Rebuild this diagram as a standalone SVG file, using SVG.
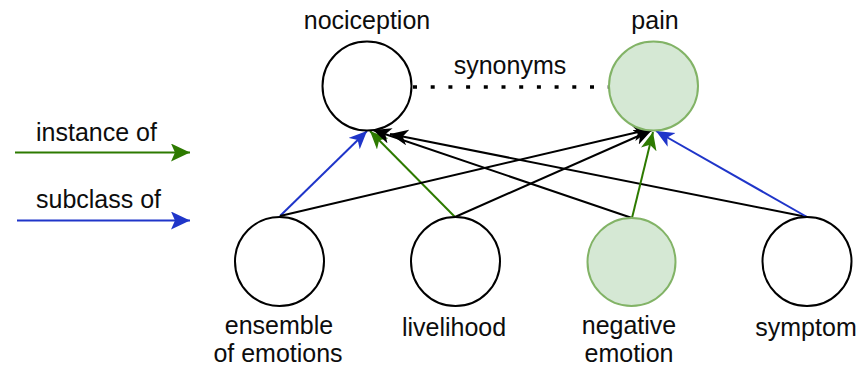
<svg xmlns="http://www.w3.org/2000/svg" width="862" height="367" viewBox="0 0 862 367">
  <style>
    text { font-family: "Liberation Sans", Arial, Helvetica, sans-serif; font-size: 25px; fill: #0d0d0d; }
    .mid { text-anchor: middle; }
    .node { fill: #ffffff; stroke: #000000; stroke-width: 2; }
    .node.green { fill: #d5e8d4; stroke: #82b366; }
    .edge { fill: none; stroke-width: 2; }
    .black { stroke: #000000; }
    .inst { stroke: #2d7a00; }
    .sub { stroke: #1f35c9; }
    .syn { stroke: #000000; stroke-width: 3.5; stroke-dasharray: 4 13.7; fill: none; }
  </style>
  <defs>
    <marker id="arrow-black" markerUnits="userSpaceOnUse" markerWidth="19" markerHeight="17" refX="18" refY="8" orient="auto">
      <path d="M0,0 L18,8 L0,16 L5,8 z" fill="#000000"/>
    </marker>
    <marker id="arrow-inst" markerUnits="userSpaceOnUse" markerWidth="19" markerHeight="17" refX="18" refY="8" orient="auto">
      <path d="M0,0 L18,8 L0,16 L5,8 z" fill="#2d7a00"/>
    </marker>
    <marker id="arrow-sub" markerUnits="userSpaceOnUse" markerWidth="19" markerHeight="17" refX="18" refY="8" orient="auto">
      <path d="M0,0 L18,8 L0,16 L5,8 z" fill="#1f35c9"/>
    </marker>
    <marker id="legend-inst" markerUnits="userSpaceOnUse" markerWidth="20" markerHeight="19" refX="19" refY="9" orient="auto">
      <path d="M0,0 L19,9 L0,18 L4,9 z" fill="#2d7a00"/>
    </marker>
    <marker id="legend-sub" markerUnits="userSpaceOnUse" markerWidth="20" markerHeight="19" refX="19" refY="9" orient="auto">
      <path d="M0,0 L19,9 L0,18 L4,9 z" fill="#1f35c9"/>
    </marker>
  </defs>

  <!-- legend -->
  <g id="legend">
    <text x="36" y="141">instance of</text>
    <line class="edge inst" x1="15" y1="152.5" x2="190" y2="152.5" marker-end="url(#legend-inst)"/>
    <text x="36" y="208">subclass of</text>
    <line class="edge sub" x1="17" y1="220.5" x2="190" y2="220.5" marker-end="url(#legend-sub)"/>
  </g>

  <!-- connectors -->
  <g id="connectors">
    <line class="syn" x1="413" y1="87" x2="609" y2="87"/>
    <!-- into nociception -->
    <line class="edge sub" x1="280" y1="216" x2="367" y2="131" marker-end="url(#arrow-sub)"/>
    <line class="edge inst" x1="455" y1="217" x2="370" y2="131" marker-end="url(#arrow-inst)"/>
    <line class="edge black" x1="632" y1="218" x2="373" y2="130" marker-end="url(#arrow-black)"/>
    <line class="edge black" x1="807" y1="217" x2="390" y2="134" marker-end="url(#arrow-black)"/>
    <!-- into pain -->
    <line class="edge black" x1="280" y1="216" x2="651" y2="129" marker-end="url(#arrow-black)"/>
    <line class="edge black" x1="455" y1="217" x2="652" y2="130" marker-end="url(#arrow-black)"/>
    <line class="edge inst" x1="632" y1="218" x2="653" y2="132" marker-end="url(#arrow-inst)"/>
    <line class="edge sub" x1="807" y1="217" x2="656" y2="131" marker-end="url(#arrow-sub)"/>
  </g>

  <g id="nociception">
    <circle class="node" cx="367" cy="86" r="44.5"/>
    <text class="mid" x="367" y="29">nociception</text>
  </g>
  <g id="pain">
    <circle class="node green" cx="653.5" cy="86" r="44.5"/>
    <text class="mid" x="655" y="29">pain</text>
  </g>
  <text class="mid" x="510" y="74">synonyms</text>

  <g id="ensemble-of-emotions">
    <circle class="node" cx="279.5" cy="261.5" r="44.5"/>
    <text class="mid" x="279" y="334">ensemble</text>
    <text class="mid" x="278" y="362">of emotions</text>
  </g>
  <g id="livelihood">
    <circle class="node" cx="455.5" cy="261.5" r="44.5"/>
    <text class="mid" x="454" y="336">livelihood</text>
  </g>
  <g id="negative-emotion">
    <circle class="node green" cx="631.5" cy="262" r="44"/>
    <text class="mid" x="629" y="334">negative</text>
    <text class="mid" x="629" y="362">emotion</text>
  </g>
  <g id="symptom">
    <circle class="node" cx="807" cy="261.5" r="44.5"/>
    <text class="mid" x="806" y="336">symptom</text>
  </g>
</svg>
